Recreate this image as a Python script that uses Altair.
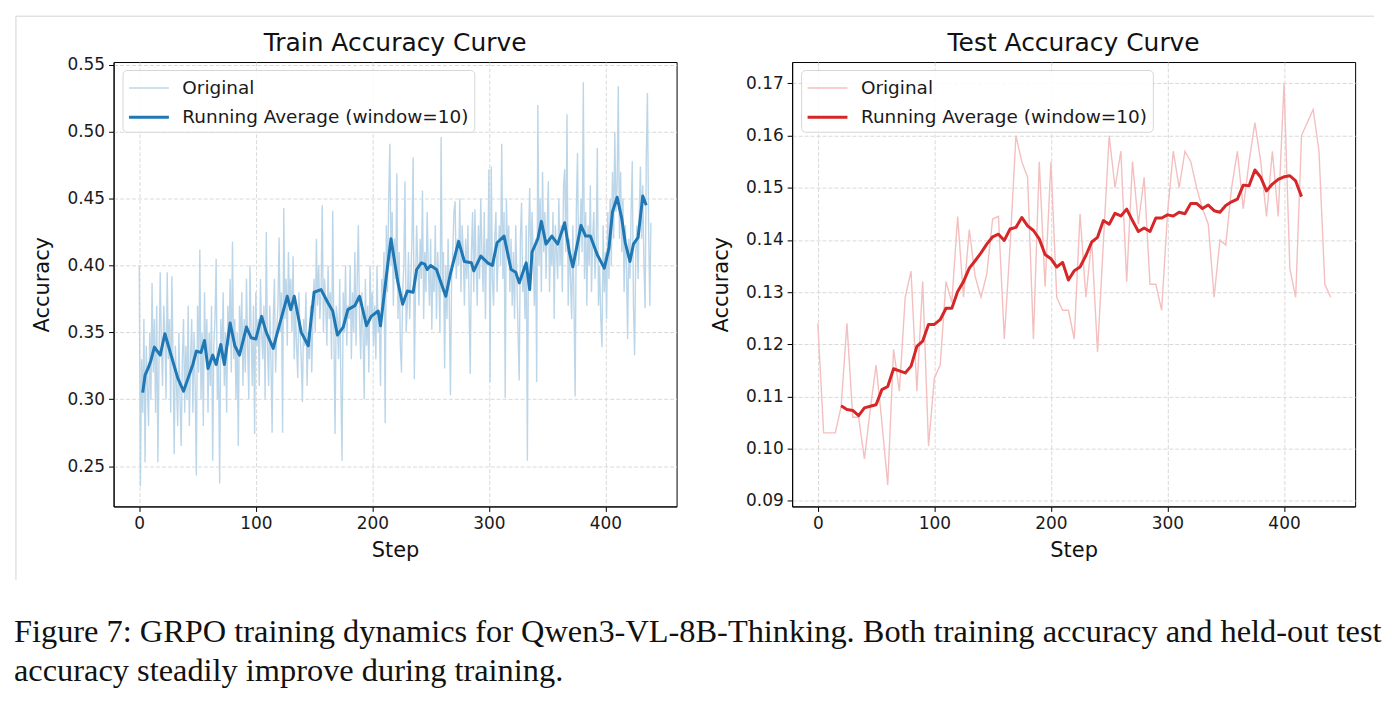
import altair as alt
import pandas as pd

# ---------------- train accuracy (every step) ----------------
train_acc = [
    0.40, 0.235, 0.33, 0.29, 0.36, 0.253, 0.34, 0.31, 0.28, 0.35,
    0.30, 0.387, 0.32, 0.36, 0.29, 0.37, 0.253, 0.33, 0.395, 0.34,
    0.31, 0.37, 0.35, 0.30, 0.395, 0.33, 0.36, 0.29, 0.392, 0.33,
    0.259, 0.34, 0.31, 0.28, 0.35, 0.30, 0.265, 0.33, 0.36, 0.29,
    0.34, 0.30, 0.37, 0.28, 0.33, 0.36, 0.29, 0.35, 0.31, 0.243,
    0.37, 0.32, 0.412, 0.30, 0.35, 0.28, 0.38, 0.33, 0.36, 0.29,
    0.35, 0.31, 0.37, 0.254, 0.34, 0.36, 0.405, 0.30, 0.33, 0.237,
    0.36, 0.33, 0.38, 0.31, 0.35, 0.29, 0.37, 0.34, 0.39, 0.32,
    0.418, 0.33, 0.36, 0.30, 0.35, 0.265, 0.37, 0.34, 0.38, 0.31,
    0.36, 0.32, 0.39, 0.34, 0.30, 0.40, 0.35, 0.31, 0.37, 0.274,
    0.38, 0.34, 0.36, 0.31, 0.39, 0.35, 0.33, 0.37, 0.30, 0.425,
    0.34, 0.31, 0.37, 0.33, 0.275, 0.36, 0.39, 0.32, 0.35, 0.37,
    0.421, 0.35, 0.38, 0.275, 0.443, 0.36, 0.39, 0.34, 0.41, 0.37,
    0.39, 0.35, 0.407, 0.33, 0.37, 0.34, 0.316, 0.38, 0.35, 0.33,
    0.298, 0.36, 0.34, 0.38, 0.31, 0.35, 0.33, 0.37, 0.32, 0.36,
    0.39, 0.35, 0.42, 0.37, 0.40, 0.36, 0.38, 0.445, 0.35, 0.39,
    0.37, 0.34, 0.40, 0.36, 0.38, 0.33, 0.441, 0.35, 0.274, 0.37,
    0.36, 0.33, 0.39, 0.31, 0.254, 0.38, 0.35, 0.40, 0.34, 0.37,
    0.36, 0.40, 0.33, 0.38, 0.35, 0.41, 0.34, 0.39, 0.430, 0.36,
    0.33, 0.38, 0.35, 0.30, 0.39, 0.34, 0.37, 0.32, 0.40, 0.36,
    0.38, 0.34, 0.37, 0.33, 0.40, 0.35, 0.36, 0.31, 0.39, 0.37,
    0.41, 0.282, 0.43, 0.38, 0.45, 0.491, 0.40, 0.44, 0.37, 0.42,
    0.39, 0.469, 0.36, 0.41, 0.34, 0.320, 0.38, 0.40, 0.463, 0.35,
    0.37, 0.41, 0.36, 0.39, 0.42, 0.481, 0.315, 0.38, 0.43, 0.40,
    0.37, 0.42, 0.39, 0.456, 0.36, 0.41, 0.38, 0.44, 0.40, 0.37,
    0.42, 0.352, 0.40, 0.38, 0.43, 0.36, 0.41, 0.39, 0.35, 0.496,
    0.38, 0.41, 0.323, 0.40, 0.36, 0.42, 0.37, 0.303, 0.39, 0.41,
    0.44, 0.448, 0.39, 0.42, 0.40, 0.45, 0.38, 0.43, 0.41, 0.37,
    0.42, 0.39, 0.43, 0.37, 0.319, 0.41, 0.44, 0.38, 0.442, 0.40,
    0.37, 0.43, 0.39, 0.45, 0.41, 0.38, 0.44, 0.36, 0.42, 0.40,
    0.472, 0.313, 0.474, 0.39, 0.37, 0.42, 0.44, 0.38, 0.41, 0.43,
    0.40, 0.491, 0.39, 0.44, 0.301, 0.45, 0.41, 0.43, 0.38, 0.42,
    0.37, 0.41, 0.36, 0.43, 0.39, 0.35, 0.314, 0.42, 0.447, 0.38,
    0.40, 0.36, 0.43, 0.254, 0.42, 0.458, 0.39, 0.44, 0.41, 0.37,
    0.42, 0.313, 0.520, 0.40, 0.45, 0.38, 0.47, 0.41, 0.44, 0.39,
    0.43, 0.463, 0.38, 0.42, 0.40, 0.44, 0.36, 0.43, 0.41, 0.39,
    0.45, 0.40, 0.43, 0.38, 0.46, 0.472, 0.41, 0.513, 0.37, 0.42,
    0.39, 0.36, 0.43, 0.37, 0.302, 0.44, 0.484, 0.40, 0.42, 0.45,
    0.41, 0.537, 0.39, 0.44, 0.37, 0.43, 0.40, 0.46, 0.38, 0.42,
    0.44, 0.39, 0.41, 0.488, 0.37, 0.40, 0.36, 0.339, 0.43, 0.38,
    0.41, 0.36, 0.44, 0.39, 0.45, 0.40, 0.47, 0.42, 0.500, 0.44,
    0.46, 0.534, 0.42, 0.47, 0.41, 0.45, 0.38, 0.43, 0.40, 0.345,
    0.42, 0.39, 0.44, 0.478, 0.37, 0.333, 0.41, 0.43, 0.39, 0.44,
    0.474, 0.42, 0.46, 0.40, 0.368, 0.48, 0.529, 0.43, 0.370, 0.432,
]
train_steps = list(range(len(train_acc)))

# running average (window=10) of the train curve
train_avg_steps = [
    3, 5, 8, 10, 13, 18, 22, 25, 29, 33, 38, 42, 46, 49, 53, 56, 59, 63, 66, 70,
    73, 78, 82, 86, 92, 96, 100, 105, 109, 115, 117, 122, 127, 130, 133, 139, 145, 150, 156, 162,
    166, 170, 175, 179, 185, 189, 195, 199, 205, 207, 212, 216, 222, 226, 230, 235, 238, 242, 245, 247,
    250, 255, 259, 263, 267, 274, 279, 285, 287, 293, 299, 303, 307, 313, 319, 323, 326, 332, 335, 337,
    342, 345, 349, 354, 359, 365, 369, 372, 379, 383, 387, 393, 399, 403, 406, 410, 414, 417, 421, 424,
    428, 432, 435,
]
train_avg = [
    0.305, 0.318, 0.324, 0.329, 0.339, 0.333, 0.349, 0.340, 0.328, 0.316,
    0.306, 0.316, 0.326, 0.336, 0.335, 0.344, 0.323, 0.333, 0.326, 0.341,
    0.326, 0.357, 0.340, 0.333, 0.354, 0.346, 0.345, 0.362, 0.350, 0.338,
    0.345, 0.361, 0.377, 0.367, 0.377, 0.350, 0.340, 0.380, 0.382, 0.372,
    0.366, 0.348, 0.354, 0.367, 0.370, 0.377, 0.355, 0.362, 0.366, 0.355,
    0.392, 0.420, 0.387, 0.371, 0.381, 0.380, 0.397, 0.402, 0.401, 0.397,
    0.400, 0.397, 0.387, 0.377, 0.394, 0.418, 0.403, 0.402, 0.396, 0.407,
    0.402, 0.400, 0.417, 0.422, 0.397, 0.395, 0.387, 0.402, 0.382, 0.410,
    0.420, 0.433, 0.416, 0.422, 0.416, 0.432, 0.410, 0.399, 0.430, 0.422,
    0.422, 0.408, 0.398, 0.413, 0.440, 0.451, 0.435, 0.417, 0.403, 0.416,
    0.421, 0.452, 0.445,
]

# ---------------- test accuracy (every 5 steps) ----------------
test_steps = list(range(0, 445, 5))
test_acc = [
    0.124, 0.103, 0.103, 0.103, 0.108, 0.124, 0.106, 0.106, 0.098, 0.1075,
    0.116, 0.105, 0.093, 0.119, 0.111, 0.129, 0.134, 0.111, 0.132, 0.1005,
    0.1135, 0.116, 0.132, 0.128, 0.1445, 0.129, 0.142, 0.133, 0.129, 0.1335,
    0.144, 0.1445, 0.121, 0.139, 0.160, 0.155, 0.152, 0.121, 0.155, 0.131,
    0.155, 0.129, 0.1265, 0.1265, 0.121, 0.145, 0.129, 0.140, 0.1185, 0.1395,
    0.160, 0.150, 0.157, 0.132, 0.155, 0.143, 0.152, 0.1315, 0.1315, 0.1265,
    0.145, 0.157, 0.150, 0.157, 0.155, 0.150, 0.146, 0.143, 0.129, 0.140,
    0.139, 0.150, 0.157, 0.146, 0.155, 0.1625, 0.155, 0.1445, 0.157, 0.1445,
    0.170, 0.1345, 0.129, 0.160, 0.1625, 0.165, 0.157, 0.1315, 0.129,
]

# running average (window=10) of the test curve
test_avg_steps = list(range(20, 420, 5))
test_avg = [
    0.1082, 0.1075, 0.1073, 0.1063, 0.1078, 0.1081, 0.1084, 0.1113, 0.1119, 0.1153,
    0.1149, 0.1145, 0.1158, 0.1196, 0.1206, 0.1238, 0.1238, 0.1247, 0.1269, 0.1269,
    0.1301, 0.1320, 0.1346, 0.1360, 0.1375, 0.1392, 0.1406, 0.1411, 0.1399, 0.1421,
    0.1424, 0.1443, 0.1427, 0.1418, 0.1402, 0.1372, 0.1364, 0.1348, 0.1357, 0.1323,
    0.1341, 0.1348, 0.1370, 0.1396, 0.1405, 0.1437, 0.1430, 0.1451, 0.1446, 0.1459,
    0.1437, 0.1416, 0.1423, 0.1416, 0.1442, 0.1442, 0.1448, 0.1446, 0.1453, 0.1450,
    0.1470, 0.1470, 0.1460, 0.1467, 0.1456, 0.1453, 0.1466, 0.1473, 0.1478, 0.1505,
    0.1504, 0.1534, 0.1520, 0.1494, 0.1507, 0.1516, 0.1521, 0.1523, 0.1513, 0.1483,
]

SERIES = ["Original", "Running Average (window=10)"]
FONT = "DejaVu Sans"
PLOT_W, PLOT_H = 565, 446
one_row = pd.DataFrame({"k": [0]})


def panel(title, steps, acc, avg_steps, avg, light, dark, y_domain, y_ticks, extra=None):
    raw = pd.DataFrame({"step": steps, "acc": acc, "series": SERIES[0]})
    smooth = pd.DataFrame({"step": avg_steps, "acc": avg, "series": SERIES[1]})

    x = alt.X("step:Q", scale=alt.Scale(domain=[-22, 461], nice=False, zero=False),
              axis=alt.Axis(values=[0, 100, 200, 300, 400], format="d", title="Step"))
    y = alt.Y("acc:Q", scale=alt.Scale(domain=y_domain, nice=False, zero=False),
              axis=alt.Axis(values=y_ticks, format=".2f", title="Accuracy"))
    color = alt.Color("series:N", scale=alt.Scale(domain=SERIES, range=[light, dark]),
                      title=None,
                      legend=alt.Legend(orient="none", legendX=9, legendY=8,
                                        symbolType="M-1,0H2.333", symbolSize=576,
                                        labelFont=FONT, labelFontSize=18.5, labelColor="#1a1a1a",
                                        labelLimit=500, labelOffset=28, rowPadding=6, padding=5,
                                        fillColor="rgba(255,255,255,0.85)",
                                        strokeColor="#d6d6d6", cornerRadius=4))
    width_enc = alt.StrokeWidth("series:N", scale=alt.Scale(domain=SERIES, range=[1.4, 3.0]),
                                title=None, legend=None)

    base = alt.Chart().encode(x=x, y=y, color=color, strokeWidth=width_enc)
    heading = alt.Chart(one_row).mark_text(
        font=FONT, fontSize=25, color="#111", align="center", baseline="alphabetic"
    ).encode(x=alt.value(PLOT_W / 2), y=alt.value(-11), text=alt.value(title))

    layers = [
        base.mark_line(clip=True).properties(data=raw),
        base.mark_line(clip=True, strokeJoin="round").properties(data=smooth),
        heading,
    ]
    if extra is not None:
        layers.extend(extra)
    return alt.layer(*layers).properties(width=PLOT_W, height=PLOT_H)


# thin grey frame of the figure (top edge and left edge)
frame_top = alt.Chart(one_row).mark_rule(color="#d4d4d4", strokeWidth=1).encode(
    x=alt.value(-98), x2=alt.value(1265), y=alt.value(-46))
frame_left = alt.Chart(one_row).mark_rule(color="#d4d4d4", strokeWidth=1).encode(
    x=alt.value(-98), y=alt.value(-46), y2=alt.value(520))

left = panel("Train Accuracy Curve", train_steps, train_acc, train_avg_steps, train_avg,
             "#bcd6e9", "#1f77b4", [0.2199, 0.5521],
             [0.25, 0.30, 0.35, 0.40, 0.45, 0.50, 0.55], extra=[frame_top, frame_left])
right = panel("Test Accuracy Curve", test_steps, test_acc, test_avg_steps, test_avg,
              "#f4bfbf", "#d62728", [0.0889, 0.1741],
              [0.09, 0.10, 0.11, 0.12, 0.13, 0.14, 0.15, 0.16, 0.17])

caption = [
    "Figure 7: GRPO training dynamics for Qwen3-VL-8B-Thinking. Both training accuracy and held-out test",
    "accuracy steadily improve during training.",
]

chart = alt.hconcat(left, right, spacing=116, bounds="flush").resolve_scale(
    color="independent", strokeWidth="independent"
).properties(
    title=alt.TitleParams(caption, orient="bottom", anchor="start", font="Liberation Serif",
                          fontSize=32.5, fontWeight="normal", color="#111", lineHeight=39,
                          offset=35, dx=-1),
    padding={"left": 14, "top": 14, "right": 10, "bottom": 10},
).configure_view(
    stroke="black", strokeWidth=1
).configure_axis(
    domainColor="black", domainWidth=1, tickColor="black", tickSize=5, tickWidth=1,
    labelFont=FONT, labelFontSize=17, labelColor="#1a1a1a", labelPadding=4,
    titleFont=FONT, titleFontSize=21, titleFontWeight="normal", titleColor="#111",
    gridColor="#d9d9d9", gridDash=[4, 2], gridWidth=1,
).configure_axisY(titlePadding=14).configure_axisX(titlePadding=8)

chart.save("out.html", embed_options={"renderer": "svg", "actions": False})
